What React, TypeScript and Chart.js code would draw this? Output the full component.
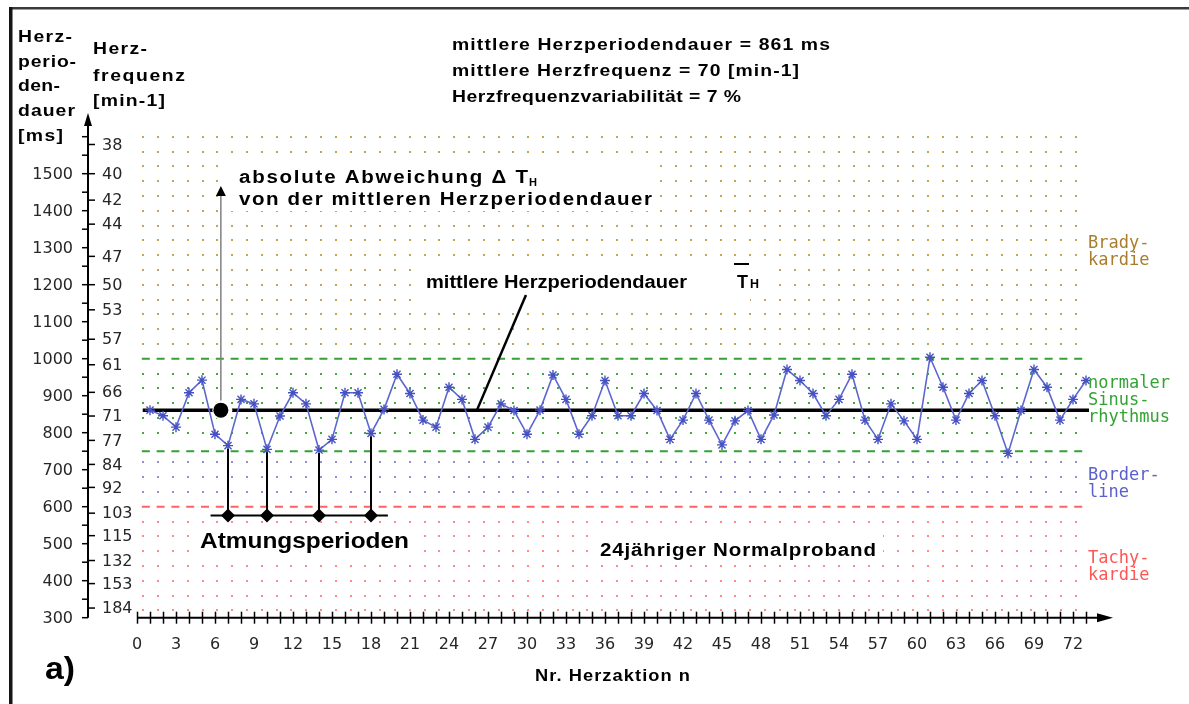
import React, { useEffect, useRef } from "react";
import { Chart, registerables } from "chart.js";

Chart.register(...registerables);

// ---------- data ----------
const heartPeriodsMs = [
  861, 846, 815, 908, 942, 796, 765, 890, 878, 755, 845, 908, 878, 753, 782, 908, 908, 798, 863, 958, 906, 834, 815, 923,
  890, 782, 815, 878, 860, 796, 861, 956, 890, 796, 846, 941, 846, 846, 906, 860, 782, 834, 906, 834, 767, 832, 860, 782,
  848, 971, 941, 906, 846, 890, 958, 834, 782, 878, 832, 782, 1004, 923, 834, 906, 941, 846, 744, 860, 971, 923, 834, 890, 941,
];
const meanPeriodMs = 861;
const meanRate = 70;
const variabilityPct = 7;
const bradyLimitMs = 1000;
const normalLowMs = 750;
const tachyLimitMs = 600;
const msTickLabels = [300, 400, 500, 600, 700, 800, 900, 1000, 1100, 1200, 1300, 1400, 1500];
const msMinorStep = 50;
const freqTickLabels = [38, 40, 42, 44, 47, 50, 53, 57, 61, 66, 71, 77, 84, 92, 103, 115, 132, 153, 184];
const xTickLabels = [0, 3, 6, 9, 12, 15, 18, 21, 24, 27, 30, 33, 36, 39, 42, 45, 48, 51, 54, 57, 60, 63, 66, 69, 72];
const xTickMax = 73;
const breathingMinimaN = [7, 10, 14, 18];
const deviationMarkerN = 6.45;

const BOLD = "'Liberation Sans', Arial, sans-serif";
const AXISFONT = "16px 'DejaVu Sans', Verdana, sans-serif";
const MONO = "17px 'DejaVu Sans Mono', monospace";

function fitText(ctx: CanvasRenderingContext2D, text: string, x: number, y: number, width: number, font: string, color = "#000") {
  ctx.save();
  ctx.font = font;
  (ctx as any).letterSpacing = "0px";
  const w = ctx.measureText(text).width;
  const sx = Math.min(1.14, Math.max(0.88, width / w));
  let ls = text.length > 1 ? (width - w * sx) / (text.length - 1) / sx : 0;
  ls = Math.max(-1.5, Math.min(4, ls));
  (ctx as any).letterSpacing = ls + "px";
  ctx.fillStyle = color;
  ctx.textAlign = "left";
  ctx.textBaseline = "alphabetic";
  ctx.translate(x, y);
  ctx.scale(sx, 1);
  ctx.fillText(text, 0, 0);
  ctx.restore();
}

const decor = {
  id: "decor",
  beforeDatasetsDraw(chart: any) {
    const { ctx } = chart;
    const xs = chart.scales.x;
    const ys = chart.scales.y;
    ctx.save();
    ctx.fillStyle = "#fff";
    ctx.fillRect(0, 0, chart.width, chart.height);

    // dotted background grid by zone
    const step = ys.getPixelForValue(1000) - ys.getPixelForValue(1040);
    const gx0 = xs.getPixelForValue(0.485);
    for (let ms = 1600; ms >= 320; ms -= 40) {
      if ([bradyLimitMs, normalLowMs, tachyLimitMs].some((l) => Math.abs(ms - l) < 12)) continue;
      const col = ms > bradyLimitMs ? "#c6a456" : ms > normalLowMs ? "#3fac3f" : ms > tachyLimitMs ? "#8f8fe0" : "#ff8a8a";
      const py = Math.round(ys.getPixelForValue(ms));
      ctx.fillStyle = col;
      for (let k = 0; k < 64; k++) ctx.fillRect(Math.round(gx0 + k * step) - 1, py - 1, 2, 2);
    }

    // white boxes behind annotation texts
    ctx.fillStyle = "#fff";
    ctx.fillRect(228, 161, 428, 50);
    ctx.fillRect(418, 262, 352, 34);
    ctx.fillRect(418, 296, 332, 14);
    ctx.fillRect(195, 529, 224, 31);
    ctx.fillRect(593, 530, 290, 30);

    // zone limit dashed lines
    ctx.lineWidth = 2;
    ctx.setLineDash([8, step - 8]);
    const xa = xs.getPixelForValue(0.37);
    const xb = xs.getPixelForValue(72.95);
    const lines: [number, string][] = [
      [bradyLimitMs, "#35a035"],
      [normalLowMs, "#35a035"],
      [tachyLimitMs, "#ff6262"],
    ];
    for (const [v, c] of lines) {
      const py = ys.getPixelForValue(v);
      ctx.strokeStyle = c;
      ctx.beginPath();
      ctx.moveTo(xa, py);
      ctx.lineTo(xb, py);
      ctx.stroke();
    }
    ctx.setLineDash([]);
    ctx.restore();
  },
  afterDatasetsDraw(chart: any) {
    const { ctx } = chart;
    const xs = chart.scales.x;
    const ys = chart.scales.y;
    const X = (v: number) => xs.getPixelForValue(v);
    const Y = (v: number) => ys.getPixelForValue(v);
    ctx.save();

    // frame
    ctx.fillStyle = "#3a3a3a";
    ctx.fillRect(9, 7, 1180, 2.5);
    ctx.fillStyle = "#151515";
    ctx.fillRect(9, 7, 3.5, 697);

    // breathing periods bracket
    const bracketMs = 576;
    ctx.strokeStyle = "#000";
    ctx.lineWidth = 2;
    for (const n of breathingMinimaN) {
      ctx.beginPath();
      ctx.moveTo(X(n), Y(heartPeriodsMs[n - 1]) + 3);
      ctx.lineTo(X(n), Y(bracketMs));
      ctx.stroke();
    }
    ctx.beginPath();
    ctx.moveTo(X(5.66), Y(bracketMs));
    ctx.lineTo(X(19.3), Y(bracketMs));
    ctx.stroke();
    ctx.fillStyle = "#000";
    for (const n of breathingMinimaN) {
      const cx = X(n), cy = Y(bracketMs);
      ctx.beginPath();
      ctx.moveTo(cx, cy - 7);
      ctx.lineTo(cx + 7, cy);
      ctx.lineTo(cx, cy + 7);
      ctx.lineTo(cx - 7, cy);
      ctx.closePath();
      ctx.fill();
    }

    // deviation arrow + marker dot
    const dx = X(deviationMarkerN), dy = Y(meanPeriodMs);
    const tipY = Y(1467);
    ctx.strokeStyle = "#808080";
    ctx.lineWidth = 1.5;
    ctx.beginPath();
    ctx.moveTo(dx, dy - 8);
    ctx.lineTo(dx, tipY + 8);
    ctx.stroke();
    ctx.fillStyle = "#000";
    ctx.beginPath();
    ctx.moveTo(dx, tipY);
    ctx.lineTo(dx + 5, tipY + 10);
    ctx.lineTo(dx - 5, tipY + 10);
    ctx.closePath();
    ctx.fill();
    ctx.fillStyle = "#fff";
    ctx.beginPath();
    ctx.arc(dx + 1.5, dy, 10, 0, Math.PI * 2);
    ctx.fill();
    ctx.fillStyle = "#000";
    ctx.beginPath();
    ctx.arc(dx, dy, 7.5, 0, Math.PI * 2);
    ctx.fill();

    // pointer line to mean label
    ctx.strokeStyle = "#000";
    ctx.lineWidth = 2.5;
    ctx.beginPath();
    ctx.moveTo(X(26.15), Y(meanPeriodMs));
    ctx.lineTo(X(29.92), Y(1172));
    ctx.stroke();

    // ---------- texts ----------
    const B = (s: number) => `bold ${s}px ${BOLD}`;
    // header left
    fitText(ctx, "Herz-", 18, 42, 54, B(17));
    fitText(ctx, "perio-", 18, 67, 58, B(17));
    fitText(ctx, "den-", 18, 91, 42, B(17));
    fitText(ctx, "dauer", 18, 116, 57, B(17));
    fitText(ctx, "[ms]", 18, 141, 45, B(17));
    fitText(ctx, "Herz-", 93, 54, 54, B(17));
    fitText(ctx, "frequenz", 93, 81, 92, B(17));
    fitText(ctx, "[min-1]", 93, 106, 72, B(17));
    // stats
    fitText(ctx, `mittlere Herzperiodendauer = ${meanPeriodMs} ms`, 452, 50, 378, B(17));
    fitText(ctx, `mittlere Herzfrequenz = ${meanRate} [min-1]`, 452, 76, 347, B(17));
    fitText(ctx, `Herzfrequenzvariabilität = ${variabilityPct} %`, 452, 102, 289, B(17));
    // annotations
    fitText(ctx, "absolute Abweichung \u0394 T", 239, 183, 289, B(18));
    fitText(ctx, "H", 529, 186, 8, B(11));
    fitText(ctx, "von der mittleren Herzperiodendauer", 239, 205, 413, B(18));
    fitText(ctx, "mittlere Herzperiodendauer", 426, 288, 261, B(18));
    fitText(ctx, "T", 737, 288, 11, B(18));
    fitText(ctx, "H", 750, 288, 9, B(12));
    ctx.fillStyle = "#000";
    ctx.fillRect(734, 263, 15, 2);
    fitText(ctx, "Atmungsperioden", 200, 548, 209, B(22));
    fitText(ctx, "24jähriger Normalproband", 600, 556, 276, B(18));
    fitText(ctx, "Nr. Herzaktion n", 535, 681, 155, B(16));
    fitText(ctx, "a)", 45, 679, 30, B(32));

    // zone labels
    const zl: [string, number, string][] = [
      ["Brady-", 248, "#a97d2c"],
      ["kardie", 265, "#a97d2c"],
      ["normaler", 388, "#33a333"],
      ["Sinus-", 405, "#33a333"],
      ["rhythmus", 421.5, "#33a333"],
      ["Border-", 480, "#5a60cc"],
      ["line", 496.5, "#5a60cc"],
      ["Tachy-", 563, "#ff5555"],
      ["kardie", 580, "#ff5555"],
    ];
    ctx.font = MONO;
    ctx.textAlign = "left";
    ctx.textBaseline = "alphabetic";
    for (const [t, yy, c] of zl) {
      ctx.fillStyle = c;
      ctx.fillText(t, 1088, yy);
    }

    // ---------- y axis ----------
    const axX = 88;
    const yBottom = Y(300);
    ctx.strokeStyle = "#000";
    ctx.fillStyle = "#000";
    ctx.lineWidth = 2;
    ctx.beginPath();
    ctx.moveTo(axX, yBottom);
    ctx.lineTo(axX, 124);
    ctx.stroke();
    ctx.beginPath();
    ctx.moveTo(axX, 113);
    ctx.lineTo(axX + 4, 126);
    ctx.lineTo(axX - 4, 126);
    ctx.closePath();
    ctx.fill();
    ctx.lineWidth = 1.5;
    for (let v = 300; v <= 1600; v += msMinorStep) {
      const py = Y(v);
      ctx.beginPath();
      ctx.moveTo(axX - 6, py);
      ctx.lineTo(axX, py);
      ctx.stroke();
    }
    for (const f of freqTickLabels) {
      const py = Y(60000 / f);
      ctx.beginPath();
      ctx.moveTo(axX, py);
      ctx.lineTo(axX + 7, py);
      ctx.stroke();
    }
    ctx.font = AXISFONT;
    ctx.fillStyle = "#262626";
    ctx.textBaseline = "middle";
    ctx.textAlign = "right";
    for (const v of msTickLabels) ctx.fillText(String(v), 73, Y(v) + 1);
    ctx.textAlign = "left";
    for (const f of freqTickLabels) ctx.fillText(String(f), 102, Y(60000 / f) + 1);

    // ---------- x axis ----------
    const ax0 = X(0);
    ctx.lineWidth = 2;
    ctx.strokeStyle = "#000";
    ctx.beginPath();
    ctx.moveTo(ax0, yBottom);
    ctx.lineTo(1100, yBottom);
    ctx.stroke();
    ctx.fillStyle = "#000";
    ctx.beginPath();
    ctx.moveTo(1113, yBottom);
    ctx.lineTo(1097, yBottom - 4.5);
    ctx.lineTo(1097, yBottom + 4.5);
    ctx.closePath();
    ctx.fill();
    ctx.lineWidth = 1.5;
    for (let n = 0; n <= xTickMax; n++) {
      const px = Math.round(X(n)) + 0.5;
      ctx.beginPath();
      ctx.moveTo(px, yBottom - 6);
      ctx.lineTo(px, yBottom + 6);
      ctx.stroke();
    }
    ctx.fillStyle = "#262626";
    ctx.font = AXISFONT;
    ctx.textAlign = "center";
    ctx.textBaseline = "middle";
    for (const n of xTickLabels) ctx.fillText(String(n), X(n), 645);

    ctx.restore();
  },
};

export default function App() {
  const ref = useRef<HTMLCanvasElement>(null);
  useEffect(() => {
    const canvas = ref.current;
    if (!canvas) return;
    const chart = new Chart(canvas, {
      type: "line",
      data: {
        datasets: [
          {
            label: "Herzperiodendauer",
            data: heartPeriodsMs.map((v, i) => ({ x: i + 1, y: v })),
            borderColor: "#5d66cf",
            borderWidth: 1.6,
            pointStyle: "star",
            pointRadius: 5,
            pointBorderColor: "#4652c2",
            pointBackgroundColor: "#4652c2",
            pointBorderWidth: 1.4,
            tension: 0,
            order: 0,
          },
          {
            label: "mittlere Herzperiodendauer",
            data: [
              { x: 0.44, y: meanPeriodMs },
              { x: 73.23, y: meanPeriodMs },
            ],
            borderColor: "#000",
            borderWidth: 3.5,
            pointRadius: 0,
            order: 1,
          },
        ],
      },
      options: {
        animation: false,
        responsive: true,
        maintainAspectRatio: false,
        events: [],
        layout: { padding: { left: 137, right: 77, top: 136.7, bottom: 86.3 } },
        scales: {
          x: { type: "linear", min: 0, max: 75, display: false },
          y: { type: "linear", min: 300, max: 1600, display: false },
        },
        plugins: { legend: { display: false }, tooltip: { enabled: false } },
      },
      plugins: [decor],
    } as any);
    return () => chart.destroy();
  }, []);
  return (
    <div style={{ position: "fixed", left: 0, top: 0, width: 1189, height: 704, background: "#fff" }}>
      <canvas ref={ref} />
    </div>
  );
}
